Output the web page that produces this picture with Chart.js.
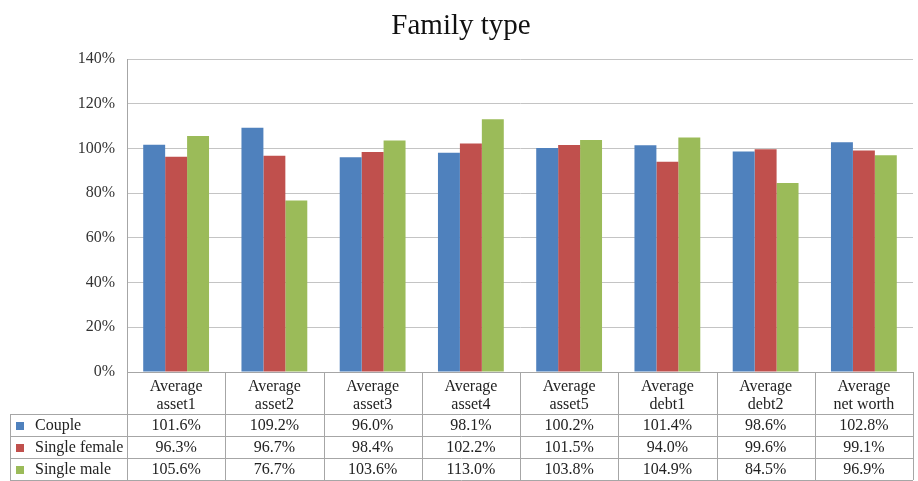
<!DOCTYPE html>
<html>
<head>
<meta charset="utf-8">
<script src="https://cdn.jsdelivr.net/npm/chart.js@4.4.1/dist/chart.umd.min.js"></script>
<style>
  html, body { margin: 0; padding: 0; background: #fff; }
  #wrap { width: 918px; height: 481px; }
</style>
</head>
<body>
<div id="wrap"><canvas id="grafico" width="918" height="481"></canvas></div>
<script>
const categorias = [
  ["Average", "asset1"], ["Average", "asset2"], ["Average", "asset3"], ["Average", "asset4"],
  ["Average", "asset5"], ["Average", "debt1"], ["Average", "debt2"], ["Average", "net worth"]
];
const series = ["Couple", "Single female", "Single male"];
const couple = [101.6, 109.2, 96.0, 98.1, 100.2, 101.4, 98.6, 102.8];
const singleFemale = [96.3, 96.7, 98.4, 102.2, 101.5, 94.0, 99.6, 99.1];
const singleMale = [105.6, 76.7, 103.6, 113.0, 103.8, 104.9, 84.5, 96.9];
const cores = ["#4f81bd", "#c0504d", "#9bbb59"];
const fonte = '"Liberation Serif", "Times New Roman", serif';

// tabela de dados desenhada abaixo do eixo x
const tabela = {
  id: "tabela",
  afterDraw(chart) {
    const ctx = chart.ctx;
    const x = chart.scales.x;
    const area = chart.chartArea;
    const topo = area.bottom;
    const largura = (x.getPixelForValue(1) - x.getPixelForValue(0));
    const esq = area.left;
    const dir = area.left + largura * categorias.length;
    const alturaCab = 42, alturaLinha = 22;
    const linhas = [couple, singleFemale, singleMale];

    ctx.save();
    // titulo
    ctx.fillStyle = "#111";
    ctx.font = "29px " + fonte;
    ctx.textAlign = "center";
    ctx.textBaseline = "middle";
    ctx.fillText("Family type", 461, 26);

    ctx.strokeStyle = "#a6a6a6";
    ctx.lineWidth = 1;
    ctx.beginPath();
    // linhas verticais do cabecalho e das linhas
    for (let i = 0; i <= categorias.length; i++) {
      const px = Math.round(esq + largura * i) + 0.5;
      ctx.moveTo(px, topo);
      ctx.lineTo(px, topo + alturaCab + alturaLinha * 3);
    }
    ctx.moveTo(10.5, topo + alturaCab);
    ctx.lineTo(10.5, topo + alturaCab + alturaLinha * 3);
    for (let r = 0; r <= 3; r++) {
      const py = Math.round(topo + alturaCab + alturaLinha * r) + 0.5;
      ctx.moveTo(10, py);
      ctx.lineTo(dir, py);
    }
    ctx.stroke();

    ctx.fillStyle = "#222";
    ctx.font = "16px " + fonte;
    categorias.forEach((c, i) => {
      const cx = esq + largura * (i + 0.5);
      ctx.fillText(c[0], cx, topo + 15);
      ctx.fillText(c[1], cx, topo + 33);
    });
    linhas.forEach((vals, r) => {
      const cy = topo + alturaCab + alturaLinha * (r + 0.5) + 1;
      ctx.fillStyle = cores[r];
      ctx.fillRect(16, cy - 4, 8, 8);
      ctx.fillStyle = "#222";
      ctx.textAlign = "left";
      ctx.fillText(series[r], 35, cy);
      ctx.textAlign = "center";
      vals.forEach((v, i) => {
        ctx.fillText(v.toFixed(1) + "%", esq + largura * (i + 0.5), cy);
      });
    });
    ctx.restore();
  }
};

new Chart(document.getElementById("grafico"), {
  type: "bar",
  data: {
    labels: categorias.map(c => c.join(" ")),
    datasets: [
      { label: series[0], data: couple, backgroundColor: cores[0] },
      { label: series[1], data: singleFemale, backgroundColor: cores[1] },
      { label: series[2], data: singleMale, backgroundColor: cores[2] }
    ]
  },
  options: {
    responsive: false,
    animation: false,
    layout: { padding: { top: 59, right: 5, left: 0, bottom: 0 } },
    datasets: { bar: { categoryPercentage: 0.67, barPercentage: 1 } },
    plugins: {
      legend: { display: false },
      tooltip: { enabled: false }
    },
    scales: {
      x: {
        ticks: { display: false },
        grid: { display: false },
        border: { color: "#a6a6a6" },
        afterFit(scale) { scale.height = 109; }
      },
      y: {
        min: 0,
        max: 140,
        ticks: {
          stepSize: 20,
          padding: 12,
          color: "#333",
          font: { family: fonte, size: 16 },
          callback: v => v + "%"
        },
        grid: { color: "#c4c4c4", drawTicks: false },
        border: { color: "#a6a6a6" },
        afterFit(scale) { scale.width = 127; }
      }
    }
  },
  plugins: [tabela]
});
</script>
</body>
</html>
